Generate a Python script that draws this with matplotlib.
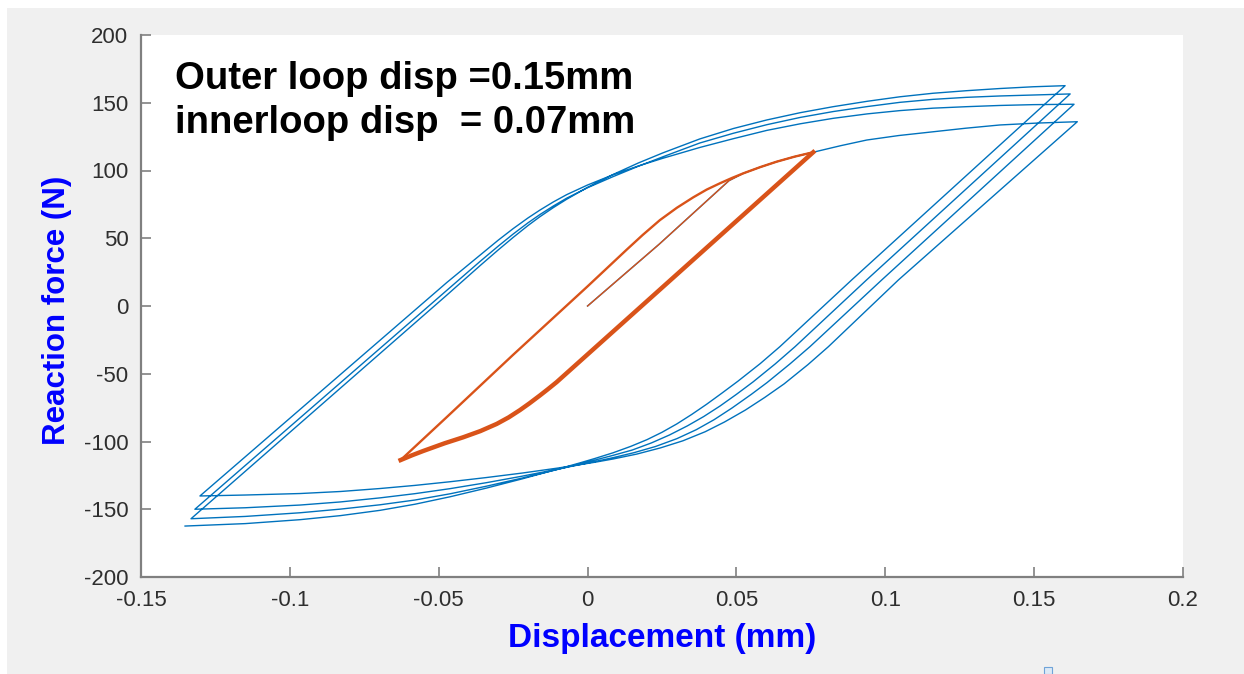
import numpy as np
import matplotlib
matplotlib.use("Agg")
import matplotlib.pyplot as plt
from matplotlib.patches import Rectangle

plt.rcParams["font.family"] = ["Liberation Sans", "DejaVu Sans"]

# ---- outer loop (0.15 mm): first loading, then unloading / reloading branches ----
outer_first_load = [(0.0, 0.0), (0.024, 45.5), (0.040, 77.5), (0.0475, 92.5), (0.0523, 97.9),
                    (0.058, 102.5), (0.0635, 106.5), (0.0695, 110.2), (0.0758, 113.5), (0.085, 118.3),
                    (0.0938, 122.5), (0.1045, 125.8), (0.1161, 128.6), (0.127, 131.2), (0.1385, 133.6),
                    (0.151, 135.0), (0.1645, 136.0)]
outer_unload_1 = [(0.1645, 136.0), (0.1044, 19.2), (0.0809, -30.0), (0.074, -43.3), (0.066, -57.5),
                  (0.0595, -67.5), (0.053, -76.8), (0.046, -85.6), (0.0395, -92.8), (0.032, -99.5),
                  (0.0245, -104.7), (0.0165, -109.3), (0.0086, -112.9), (0.0025, -115.3), (-0.0026, -117.1),
                  (-0.010, -119.6), (-0.022, -123.3), (-0.034, -126.6), (-0.0462, -129.7), (-0.058, -132.4),
                  (-0.0697, -134.7), (-0.083, -136.9), (-0.0966, -138.4), (-0.115, -139.5), (-0.1302, -140.2)]
outer_reload_1 = [(-0.1302, -140.2), (-0.0697, -25.2), (-0.0473, 17.3), (-0.036, 37.8), (-0.030, 48.6),
                  (-0.025, 57.1), (-0.020, 65.0), (-0.016, 70.8), (-0.0115, 76.8), (-0.007, 82.2),
                  (0.0, 89.3), (0.0086, 96.9), (0.017, 103.3), (0.0254, 109.1), (0.0377, 117.0),
                  (0.049, 123.5), (0.0602, 129.6), (0.0715, 134.5), (0.0825, 138.5), (0.094, 141.8),
                  (0.1049, 144.2), (0.116, 146.0), (0.1273, 147.1), (0.1385, 148.0), (0.1497, 148.6),
                  (0.1634, 148.9)]
outer_unload_2 = [(0.1634, 148.9), (0.0988, 19.2), (0.0747, -30.0), (0.068, -42.7), (0.0603, -56.5),
                  (0.055, -65.2), (0.0485, -75.3), (0.0425, -83.9), (0.0365, -91.3), (0.030, -97.9),
                  (0.0228, -103.7), (0.0155, -108.3), (0.0086, -111.9), (0.0025, -114.8), (-0.0026, -117.1),
                  (-0.010, -120.4), (-0.022, -125.6), (-0.034, -130.4), (-0.0462, -134.8), (-0.058, -138.5),
                  (-0.0697, -141.6), (-0.083, -144.6), (-0.0966, -146.9), (-0.115, -148.9), (-0.1319, -150.0)]
outer_reload_2 = [(-0.1319, -150.0), (-0.0697, -31.2), (-0.0473, 11.6), (-0.036, 33.1), (-0.030, 44.2),
                  (-0.025, 53.1), (-0.020, 61.4), (-0.016, 67.5), (-0.0115, 73.8), (-0.007, 79.6),
                  (0.0, 87.3), (0.0086, 95.5), (0.017, 103.1), (0.0254, 110.2), (0.0377, 120.3),
                  (0.049, 127.5), (0.0602, 133.8), (0.0715, 139.2), (0.0825, 143.5), (0.094, 147.2),
                  (0.1049, 150.3), (0.116, 152.5), (0.1273, 154.0), (0.1385, 155.0), (0.1497, 155.7),
                  (0.1621, 156.5)]
outer_unload_3 = [(0.1621, 156.5), (0.0937, 19.2), (0.0697, -30.0), (0.063, -42.8), (0.0556, -56.0),
                  (0.050, -65.2), (0.0445, -73.8), (0.039, -81.6), (0.0335, -88.5), (0.0275, -95.2),
                  (0.0215, -101.0), (0.015, -106.3), (0.0086, -110.2), (0.0025, -113.7), (-0.0026, -116.5),
                  (-0.010, -120.6), (-0.022, -127.0), (-0.034, -133.0), (-0.0462, -138.6), (-0.058, -143.2),
                  (-0.0697, -146.7), (-0.083, -149.9), (-0.0966, -152.6), (-0.115, -155.3), (-0.1332, -157.0)]
outer_reload_3 = [(-0.1332, -157.0), (-0.0697, -35.0), (-0.0473, 8.0), (-0.036, 30.0), (-0.030, 41.4),
                  (-0.025, 50.6), (-0.020, 59.4), (-0.016, 65.9), (-0.0115, 72.6), (-0.007, 78.8),
                  (0.0, 87.6), (0.0086, 97.1), (0.017, 105.5), (0.0254, 113.1), (0.0377, 123.3),
                  (0.049, 131.0), (0.0602, 137.3), (0.0715, 142.7), (0.0825, 147.1), (0.094, 151.1),
                  (0.1049, 154.4), (0.116, 157.0), (0.1273, 158.9), (0.1385, 160.5), (0.1497, 161.8),
                  (0.1604, 162.6)]
outer_unload_4 = [(0.1604, 162.6), (0.0887, 19.2), (0.0646, -30.0), (0.058, -42.5), (0.0505, -55.5),
                  (0.045, -64.5), (0.040, -72.5), (0.035, -80.0), (0.030, -87.0), (0.025, -93.2),
                  (0.020, -98.6), (0.0145, -103.6), (0.0086, -108.3), (0.0025, -112.5), (-0.0026, -115.8),
                  (-0.010, -120.4), (-0.022, -127.6), (-0.034, -134.4), (-0.0462, -140.8), (-0.058, -146.3),
                  (-0.0697, -150.8), (-0.083, -154.7), (-0.0966, -157.7), (-0.115, -160.6), (-0.1352, -162.4)]

# ---- inner loop (0.07 mm) ----
inner_first_load = [(0.0, 0.0), (0.024, 45.5), (0.040, 77.5), (0.0475, 92.5), (0.0523, 97.9),
                    (0.058, 102.5), (0.0635, 106.5), (0.0695, 110.2), (0.0758, 113.5)]
inner_reload = [(-0.0628, -113.7), (-0.0473, -82.0), (-0.025, -36.0), (0.0, 14.5), (0.0131, 41.5),
                (0.0185, 52.4), (0.0243, 63.4), (0.030, 72.5), (0.0355, 80.2), (0.040, 85.9),
                (0.0445, 90.6), (0.0485, 94.5), (0.0523, 97.9), (0.058, 102.5), (0.0635, 106.5),
                (0.0695, 110.2), (0.0758, 113.5)]
inner_unload = [(0.0758, 113.5), (-0.0104, -56.2), (-0.0135, -61.7), (-0.016, -66.0), (-0.0195, -71.8),
                (-0.0227, -76.8), (-0.0265, -82.2), (-0.0305, -87.0), (-0.036, -92.3), (-0.0418, -96.9),
                (-0.048, -101.3), (-0.0552, -107.0), (-0.059, -110.2), (-0.0628, -113.7)]

x_ticks = [-0.15, -0.1, -0.05, 0, 0.05, 0.1, 0.15, 0.2]
x_tick_labels = ["-0.15", "-0.1", "-0.05", "0", "0.05", "0.1", "0.15", "0.2"]
y_ticks = [-200, -150, -100, -50, 0, 50, 100, 150, 200]
y_tick_labels = ["-200", "-150", "-100", "-50", "0", "50", "100", "150", "200"]

BLUE = "#0072BD"
ORANGE = "#D95319"

W, H = 1244, 674
fig = plt.figure(figsize=(W / 100, H / 100), dpi=100)
fig.patch.set_facecolor("white")
fig.add_artist(Rectangle((7 / W, 0), 1 - 7 / W, 1 - 8 / H, transform=fig.transFigure,
                         facecolor="#f0f0f0", edgecolor="none", zorder=-10))
# small resize handle at the bottom edge
fig.add_artist(Rectangle((1044 / W, 0), 8 / W, 7 / H, transform=fig.transFigure,
                         facecolor="#dce9f6", edgecolor="#6fa3d8", linewidth=0.8, zorder=5))

ax = fig.add_axes([141 / W, 1 - 577 / H, 1042 / W, 542 / H])
ax.set_facecolor("white")

outer_path = np.array(outer_first_load + outer_unload_1 + outer_reload_1 + outer_unload_2
                      + outer_reload_2 + outer_unload_3 + outer_reload_3 + outer_unload_4)
ax.plot(outer_path[:, 0], outer_path[:, 1], color=BLUE, lw=1.0, solid_joinstyle="round", zorder=2)

for branch, width in [(inner_first_load, 1.0), (inner_reload, 1.7), (inner_unload, 3.2)]:
    b = np.array(branch)
    ax.plot(b[:, 0], b[:, 1], color=ORANGE, lw=width, solid_joinstyle="round", zorder=3)

ax.set_xlim(-0.15, 0.2)
ax.set_ylim(-200, 200)
ax.set_xticks(x_ticks)
ax.set_xticklabels(x_tick_labels)
ax.set_yticks(y_ticks)
ax.set_yticklabels(y_tick_labels)

for side in ("top", "right"):
    ax.spines[side].set_visible(False)
for side in ("left", "bottom"):
    ax.spines[side].set_color("#808080")
    ax.spines[side].set_linewidth(1.6)

ax.tick_params(axis="both", direction="in", length=7, width=1.2, color="#808080",
               labelcolor="#2e2e2e", labelsize=16)
ax.tick_params(axis="x", pad=9)
ax.tick_params(axis="y", pad=9)

ax.set_xlabel("Displacement (mm)", fontsize=24, fontweight="bold", color="#0000ff")
ax.xaxis.set_label_coords(0.5, -0.085)
ax.set_ylabel("Reaction force (N)", fontsize=22.5, fontweight="bold", color="#0000ff")
ax.yaxis.set_label_coords(-0.066, 0.4926)

ax.text(0.0326, 0.900, "Outer loop disp =0.15mm", transform=ax.transAxes,
        fontsize=27.5, fontweight="bold", color="black", va="baseline")
ax.text(0.0326, 0.820, "innerloop disp  = 0.07mm", transform=ax.transAxes,
        fontsize=27.5, fontweight="bold", color="black", va="baseline")

fig.savefig("out.png", dpi=100, facecolor=fig.get_facecolor())
